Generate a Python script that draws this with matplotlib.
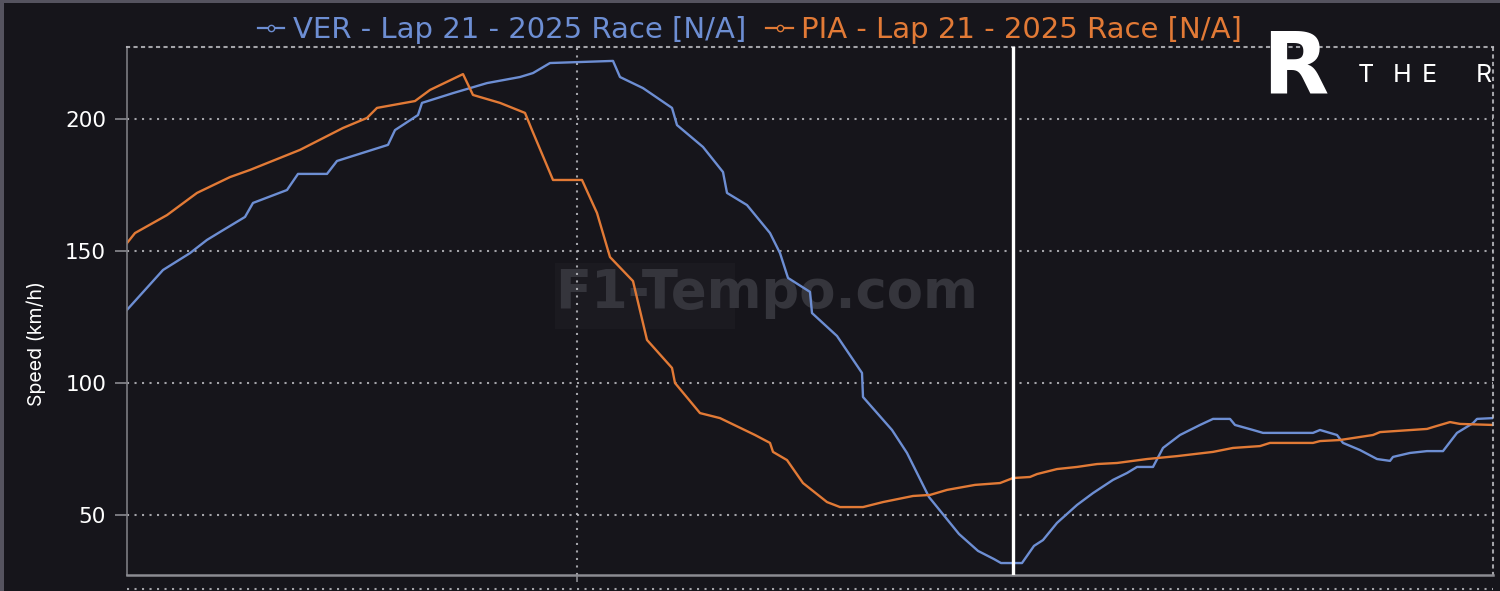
import matplotlib
matplotlib.use("Agg")
import matplotlib.pyplot as plt
from matplotlib.lines import Line2D
from matplotlib.patches import Rectangle

# distance along the lap (m) and speed (km/h)
ver_dist = [0, 36, 63, 80, 93, 118, 126, 160, 171, 200, 210, 261, 268, 291, 295,
            326, 360, 393, 406, 423, 486, 493, 516, 545, 550, 576, 596, 600, 620,
            643, 653, 661, 683, 685, 710, 735, 736, 765, 780, 802, 832, 851, 867,
            874, 895, 907, 916, 930, 950, 966, 986, 1000, 1010, 1026, 1036, 1053,
            1073, 1086, 1103, 1108, 1126, 1136, 1186, 1193, 1210, 1216, 1233, 1250,
            1263, 1266, 1283, 1300, 1316, 1330, 1346, 1350, 1366]
ver_speed = [127.7, 142.8, 149.2, 154.2, 157.2, 162.9, 168.2, 173.1, 179.2, 179.2,
             184.1, 190.2, 195.8, 201.5, 206.1, 209.8, 213.6, 215.9, 217.4, 221.2,
             222.0, 215.9, 211.7, 204.2, 197.7, 189.4, 179.9, 172.0, 167.4, 156.8,
             149.2, 139.8, 134.5, 126.5, 117.8, 103.8, 94.7, 82.2, 73.5, 56.8, 42.8,
             36.4, 33.3, 31.8, 31.8, 38.3, 40.5, 47.0, 53.8, 58.3, 63.3, 65.9, 68.2,
             68.2, 75.4, 80.3, 84.1, 86.4, 86.4, 84.1, 82.2, 81.1, 81.1, 82.2, 80.3,
             77.3, 74.6, 71.2, 70.5, 72.0, 73.5, 74.2, 74.2, 81.1, 84.8, 86.4, 86.7]

pia_dist = [0, 8, 40, 70, 103, 123, 173, 216, 240, 250, 288, 303, 336, 346, 373,
            398, 405, 426, 455, 470, 483, 506, 520, 545, 548, 573, 593, 628, 643,
            646, 660, 676, 700, 713, 736, 756, 786, 803, 820, 848, 873, 886, 903,
            910, 930, 950, 970, 990, 1020, 1050, 1086, 1106, 1133, 1143, 1186, 1193,
            1213, 1246, 1253, 1300, 1306, 1323, 1333, 1366]
pia_speed = [153.0, 156.8, 163.6, 172.0, 178.0, 180.7, 188.3, 196.6, 200.4, 204.2,
             206.8, 211.0, 217.0, 209.1, 206.1, 202.3, 195.8, 176.9, 176.9, 164.4,
             147.7, 138.6, 116.3, 105.7, 100.0, 88.6, 86.7, 80.3, 77.3, 73.9, 70.8,
             62.1, 54.9, 53.0, 53.0, 54.9, 57.2, 57.6, 59.5, 61.4, 62.1, 64.0, 64.4,
             65.5, 67.4, 68.2, 69.3, 69.7, 71.2, 72.3, 73.9, 75.4, 76.1, 77.3, 77.3,
             78.0, 78.4, 80.3, 81.4, 82.6, 83.3, 85.2, 84.5, 84.1]

ver_label = "VER - Lap 21 - 2025 Race [N/A]"
pia_label = "PIA - Lap 21 - 2025 Race [N/A]"
y_ticks = [50, 100, 150, 200]
cursor_dist = 886
grid_dist = 450

bg = "#16151b"
blue = "#6d8ed3"
orange = "#e27a36"
grid_col = "#bdbdc2"

plt.rcParams["font.family"] = ["DejaVu Sans"]

fig = plt.figure(figsize=(15, 5.91), dpi=100, facecolor=bg)
ax = fig.add_axes([127 / 1500, 1 - 575 / 591, 1366 / 1500, 528 / 591])
ax.set_facecolor(bg)

ax.plot(ver_dist, ver_speed, color=blue, lw=1.7, label=ver_label)
ax.plot(pia_dist, pia_speed, color=orange, lw=1.7, label=pia_label)

ax.set_xlim(0, 1366)
ax.set_ylim(27.27, 227.27)
ax.set_yticks(y_ticks)
ax.set_xticks([grid_dist])
ax.set_xticklabels([])
ax.tick_params(axis="y", colors="#8a8a90", labelcolor="white", labelsize=15.5,
               length=9, width=1.2, pad=6)
ax.tick_params(axis="x", colors="#8a8a90", length=5, width=1.2)

dot = (0, (1, 2.6))
ax.grid(True, color=grid_col, lw=1.5, linestyle=dot, alpha=0.85)
for s in ["top", "right"]:
    ax.spines[s].set_color(grid_col)
    ax.spines[s].set_linestyle(dot)
    ax.spines[s].set_linewidth(1.5)
    ax.spines[s].set_alpha(0.85)
ax.spines["left"].set_color("#7c7c82")
ax.spines["left"].set_linestyle((0, (3, 1)))
ax.spines["left"].set_linewidth(1.2)
ax.spines["bottom"].set_color("#8c8c92")
ax.spines["bottom"].set_linewidth(1.8)

# cursor line
ax.axvline(cursor_dist, color="white", lw=2.4, zorder=5)

# watermark
ax.add_patch(Rectangle((0.313, 0.465), 0.132, 0.125, transform=ax.transAxes,
                       color="#1b1a20", lw=0, zorder=0))
ax.text(0.4685, 0.534, "F1-Tempo.com", transform=ax.transAxes, ha="center",
        va="center", fontsize=38, fontweight="bold", color="#35353c", zorder=0.5)

fig.text(36 / 1500, 1 - 343 / 591, "Speed (km/h)", rotation=90, ha="center",
         va="center", color="white", fontsize=14, family=["Inter", "DejaVu Sans"])

leg_handles = [Line2D([0], [0], color=blue, lw=1.6, marker="o", ms=4.5, mfc=bg, mec=blue),
               Line2D([0], [0], color=orange, lw=1.6, marker="o", ms=4.5, mfc=bg, mec=orange)]
leg = fig.legend(leg_handles, [ver_label, pia_label], loc="center", ncol=2,
                 bbox_to_anchor=(750 / 1500, 1 - 30 / 591), frameon=False,
                 fontsize=21, handlelength=0.9, handletextpad=0.3, columnspacing=0.7)
for t, c in zip(leg.get_texts(), [blue, orange]):
    t.set_color(c)

# logo in the corner
fig.text(1295 / 1500, 1 - 70 / 591, "R", ha="center", va="center", color="white",
         fontsize=62, fontweight="bold")
for letter, px in zip(["T", "H", "E", "R"], [1366, 1402, 1429, 1484]):
    fig.text(px / 1500, 1 - 76 / 591, letter, ha="center", va="center",
             color="white", fontsize=18, family=["Inter", "DejaVu Sans"])

# top edge of the panel below
fig.add_artist(Line2D([127 / 1500, 1493 / 1500], [1 - 589 / 591] * 2, color=grid_col,
                      lw=1.5, linestyle=dot, alpha=0.85))
# screen frame
fig.add_artist(Rectangle((0, 0), 4 / 1500, 1, transform=fig.transFigure,
                         color="#55535f", lw=0))
fig.add_artist(Rectangle((0, 1 - 3 / 591), 1, 3 / 591, transform=fig.transFigure,
                         color="#55535f", lw=0))

fig.savefig("out.png", dpi=100, facecolor=bg)
